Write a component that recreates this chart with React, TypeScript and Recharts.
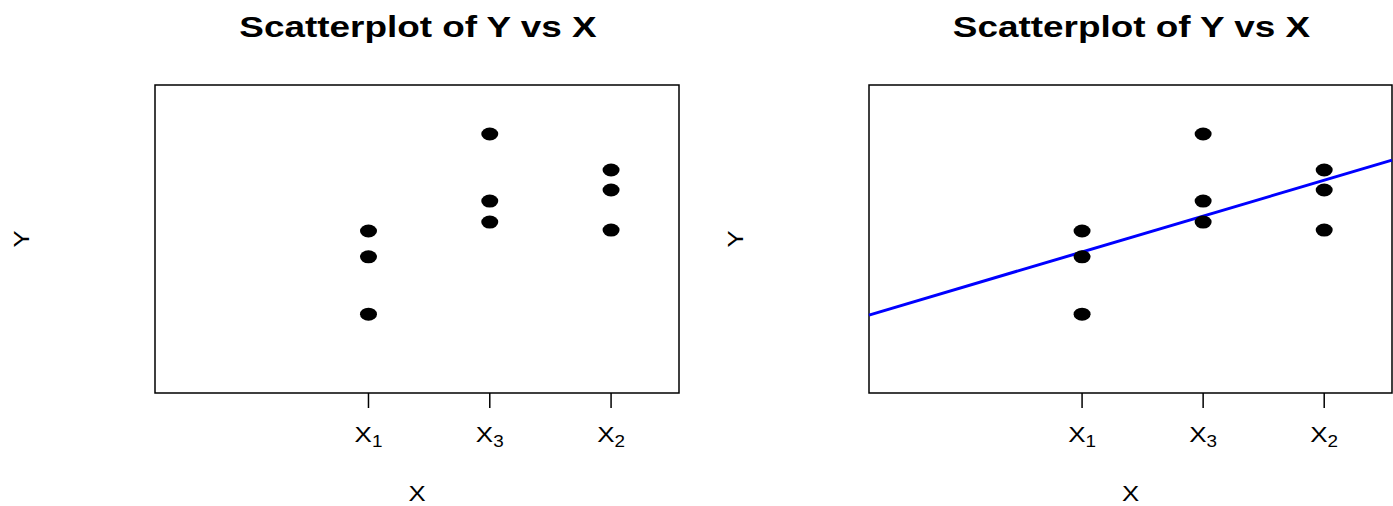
import React from 'react';
import {
  ScatterChart,
  Scatter,
  XAxis,
  YAxis,
  ReferenceArea,
  ReferenceLine,
  Label,
} from 'recharts';

// x positions of the three groups and their subscript labels
const GROUP_X = [1.6, 2.6, 3.6];
const GROUP_SUB = ['1', '3', '2'];
const X_DOMAIN = [-0.16, 4.16];
const Y_DOMAIN = [0, 10];

// y values per group
const yX1 = [5.26, 4.42, 2.56];
const yX3 = [8.41, 6.23, 5.55];
const yX2 = [7.24, 6.59, 5.29];

// fitted line (right panel), endpoints at the plot edges
const fitX = [-0.16, 4.16];
const fitY = [2.53, 7.56];

const TITLE = 'Scatterplot of Y vs X';
const FONT = '"Liberation Sans", Arial, Helvetica, sans-serif';

const points = [yX1, yX3, yX2].flatMap((ys, i) => ys.map((y) => ({ x: GROUP_X[i], y })));

const Dot = (props: any) => <ellipse cx={props.cx} cy={props.cy} rx={8.5} ry={6.5} fill="#000" />;

const XTick = (props: any) => {
  const { x, y, payload } = props;
  const idx = GROUP_X.indexOf(payload.value);
  return (
    <g transform={`translate(${x},${y + 32}) scale(1.18,1)`}>
      <text x={0} y={0} textAnchor="middle" fontFamily={FONT} fontSize={22} fill="#000">
        X<tspan dy={5} fontSize={16}>{GROUP_SUB[idx]}</tspan>
      </text>
    </g>
  );
};

const XTitle = (props: any) => {
  const { x, y, width } = props.viewBox;
  return (
    <text x={0} y={0} transform={`translate(${x + width / 2},${y + 108}) scale(1.12,1)`} textAnchor="middle" fontFamily={FONT} fontSize={23} fill="#000">
      X
    </text>
  );
};

const YTitle = (props: any) => {
  const { x, y, width, height } = props.viewBox;
  return (
    <text x={0} y={0} transform={`translate(${x + width - 126},${y + height / 2}) rotate(-90) scale(1.12,1)`} textAnchor="middle" fontFamily={FONT} fontSize={23} fill="#000">
      Y
    </text>
  );
};

interface PanelProps {
  left: number;
  width: number;
  yAxisWidth: number;
  rightMargin: number;
  withFit?: boolean;
}

const Panel: React.FC<PanelProps> = ({ left, width, yAxisWidth, rightMargin, withFit }) => {
  const boxCenter = yAxisWidth + (width - yAxisWidth - rightMargin) / 2;
  return (
    <div style={{ position: 'absolute', left, top: 0 }}>
      <ScatterChart width={width} height={506} margin={{ top: 85, right: rightMargin, bottom: 0, left: 0 }}>
        <text
          x={0}
          y={0}
          transform={`translate(${boxCenter + 1},37) scale(1.23,1)`}
          textAnchor="middle"
          fontFamily={FONT}
          fontSize={30}
          fontWeight="bold"
          fill="#000"
        >
          {TITLE}
        </text>
        <XAxis
          type="number"
          dataKey="x"
          domain={X_DOMAIN}
          ticks={GROUP_X}
          allowDataOverflow
          height={113}
          axisLine={false}
          tickSize={15}
          tickLine={{ stroke: '#000', strokeWidth: 1.5 }}
          tick={<XTick />}
        >
          <Label content={<XTitle />} />
        </XAxis>
        <YAxis
          type="number"
          dataKey="y"
          domain={Y_DOMAIN}
          allowDataOverflow
          width={yAxisWidth}
          tick={false}
          tickLine={false}
          axisLine={false}
        >
          <Label content={<YTitle />} />
        </YAxis>
        <ReferenceArea
          x1={X_DOMAIN[0]}
          x2={X_DOMAIN[1]}
          y1={Y_DOMAIN[0]}
          y2={Y_DOMAIN[1]}
          fill="none"
          fillOpacity={0}
          stroke="#000"
          strokeWidth={1.5}
        />
        <Scatter data={points} shape={<Dot />} isAnimationActive={false} />
        {withFit && (
          <ReferenceLine
            segment={[
              { x: fitX[0], y: fitY[0] },
              { x: fitX[1], y: fitY[1] },
            ]}
            stroke="#0000ff"
            strokeWidth={3}
            ifOverflow="visible"
          />
        )}
      </ScatterChart>
    </div>
  );
}

export default function App() {
  return (
    <div style={{ position: 'absolute', left: 0, top: 0, width: 1393, height: 506, background: '#fff' }}>
      <Panel left={0} width={696} yAxisWidth={155} rightMargin={17} />
      <Panel left={696} width={697} yAxisWidth={173} rightMargin={1} withFit />
    </div>
  );
}
